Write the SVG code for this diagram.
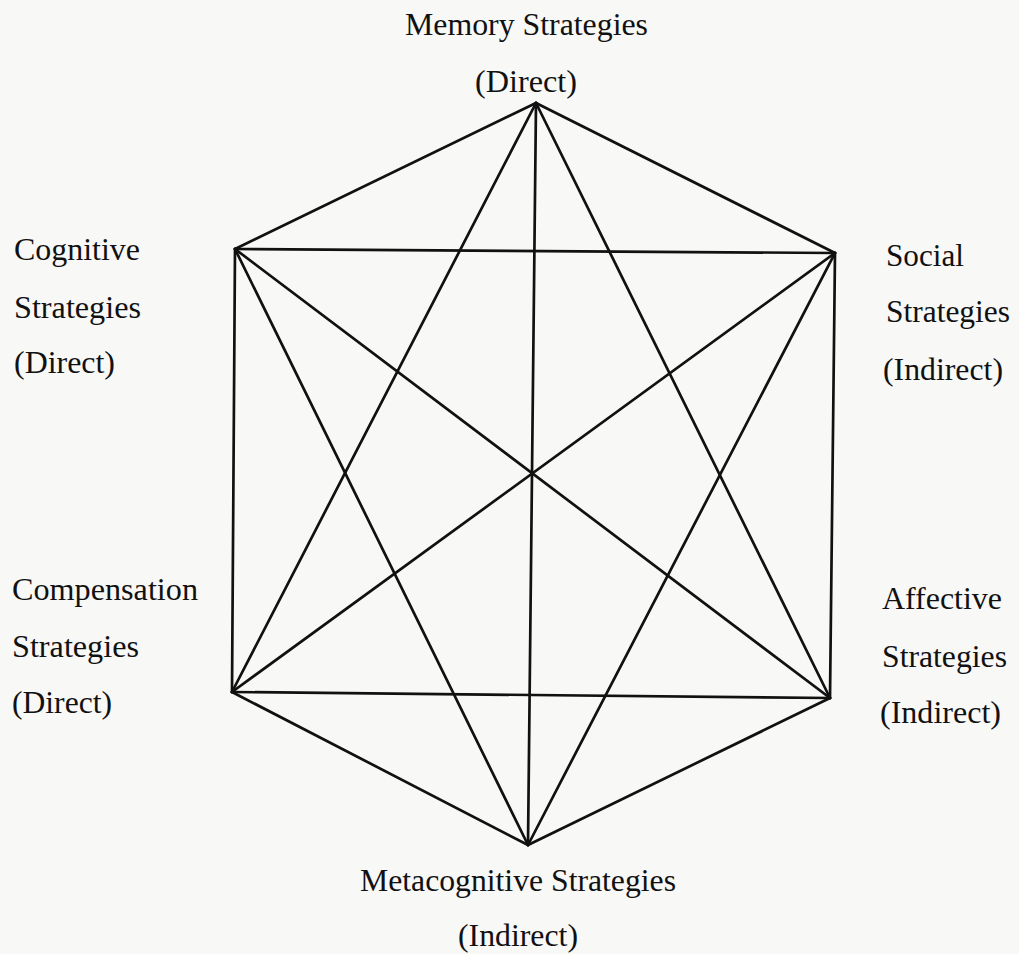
<svg xmlns="http://www.w3.org/2000/svg" width="1019" height="954" viewBox="0 0 1019 954">
<style>
.l{font-family:"Liberation Serif","Times New Roman",serif;font-size:31px;fill:#111}
.e{stroke:#111;stroke-width:2.7;stroke-linecap:round;fill:none}
</style>
<rect width="1019" height="954" fill="#f8f8f7"/>
<g id="connectors" class="e">
<line x1="536" y1="103" x2="235" y2="249"/>
<line x1="536" y1="103" x2="835" y2="253"/>
<line x1="536" y1="103" x2="232" y2="692"/>
<line x1="536" y1="103" x2="830" y2="698"/>
<line x1="536" y1="103" x2="528" y2="845"/>
<line x1="235" y1="249" x2="835" y2="253"/>
<line x1="235" y1="249" x2="232" y2="692"/>
<line x1="235" y1="249" x2="830" y2="698"/>
<line x1="235" y1="249" x2="528" y2="845"/>
<line x1="835" y1="253" x2="232" y2="692"/>
<line x1="835" y1="253" x2="830" y2="698"/>
<line x1="835" y1="253" x2="528" y2="845"/>
<line x1="232" y1="692" x2="830" y2="698"/>
<line x1="232" y1="692" x2="528" y2="845"/>
<line x1="830" y1="698" x2="528" y2="845"/>
</g>
<g id="memory">
<text class="l" x="405" y="35" textLength="243" lengthAdjust="spacingAndGlyphs">Memory Strategies</text>
<text class="l" x="475" y="92" textLength="102" lengthAdjust="spacingAndGlyphs">(Direct)</text>
</g>
<g id="cognitive">
<text class="l" x="14" y="260" textLength="126" lengthAdjust="spacingAndGlyphs">Cognitive</text>
<text class="l" x="14" y="318" textLength="127" lengthAdjust="spacingAndGlyphs">Strategies</text>
<text class="l" x="14" y="373" textLength="101" lengthAdjust="spacingAndGlyphs">(Direct)</text>
</g>
<g id="social">
<text class="l" x="886" y="266" textLength="78" lengthAdjust="spacingAndGlyphs">Social</text>
<text class="l" x="886" y="322" textLength="124" lengthAdjust="spacingAndGlyphs">Strategies</text>
<text class="l" x="883" y="380" textLength="120" lengthAdjust="spacingAndGlyphs">(Indirect)</text>
</g>
<g id="compensation">
<text class="l" x="12" y="600" textLength="186" lengthAdjust="spacingAndGlyphs">Compensation</text>
<text class="l" x="12" y="657" textLength="127" lengthAdjust="spacingAndGlyphs">Strategies</text>
<text class="l" x="12" y="713" textLength="100" lengthAdjust="spacingAndGlyphs">(Direct)</text>
</g>
<g id="affective">
<text class="l" x="882" y="609" textLength="120" lengthAdjust="spacingAndGlyphs">Affective</text>
<text class="l" x="882" y="667" textLength="125" lengthAdjust="spacingAndGlyphs">Strategies</text>
<text class="l" x="880" y="723" textLength="121" lengthAdjust="spacingAndGlyphs">(Indirect)</text>
</g>
<g id="metacognitive">
<text class="l" x="360" y="891" textLength="316" lengthAdjust="spacingAndGlyphs">Metacognitive Strategies</text>
<text class="l" x="458" y="946" textLength="120" lengthAdjust="spacingAndGlyphs">(Indirect)</text>
</g>
</svg>
